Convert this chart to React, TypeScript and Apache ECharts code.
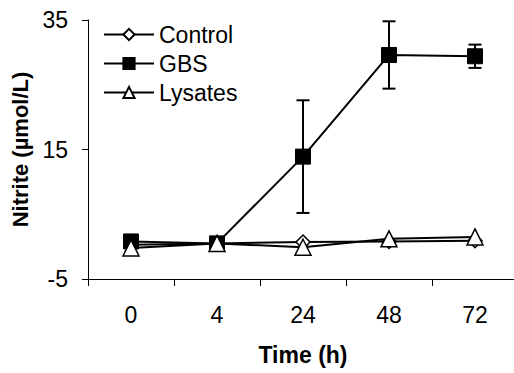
import React, { useEffect, useRef } from "react";
import * as echarts from "echarts";

const categories = ["0", "4", "24", "48", "72"];
const controlValues = [0.3, 0.5, 0.7, 0.8, 0.9];
const gbsValues = [0.8, 0.5, 13.9, 29.6, 29.4];
const gbsErrors = [0, 0, 8.7, 5.2, 1.8];
const lysatesValues = [-0.2, 0.5, -0.1, 1.2, 1.5];
const yTicks = { min: -5, max: 35, interval: 20 };

const FONT = "Arial, 'Liberation Sans', sans-serif";

export default function App() {
  const ref = useRef<HTMLDivElement>(null);
  useEffect(() => {
    if (!ref.current) return;
    const chart = echarts.init(ref.current, null, { renderer: "svg" });
    const errData = gbsValues.map((v, i) => [i, v - gbsErrors[i], v + gbsErrors[i]]);
    chart.setOption({
      animation: false,
      backgroundColor: "#fff",
      textStyle: { fontFamily: FONT },
      grid: { left: 88, top: 20, width: 430, height: 259, containLabel: false, outerBoundsMode: "none" },
      legend: {
        orient: "vertical",
        left: 98,
        top: 18,
        itemWidth: 50,
        itemHeight: 14,
        itemGap: 6,
        textStyle: { fontSize: 23, color: "#000", fontFamily: FONT },
        data: ["Control", "GBS", "Lysates"],
      },
      xAxis: {
        type: "category",
        data: categories,
        boundaryGap: true,
        name: "Time (h)",
        nameLocation: "middle",
        nameGap: 64,
        nameTextStyle: { fontSize: 23, fontWeight: "bold", color: "#000", fontFamily: FONT },
        axisLine: { onZero: false, lineStyle: { color: "#000", width: 1 } },
        axisTick: { show: true, length: 7, inside: false, alignWithLabel: false, lineStyle: { color: "#000" } },
        axisLabel: { fontSize: 23, color: "#000", margin: 24, fontFamily: FONT },
        splitLine: { show: false },
      },
      yAxis: {
        type: "value",
        min: yTicks.min,
        max: yTicks.max,
        interval: yTicks.interval,
        name: "Nitrite (µmol/L)",
        nameLocation: "middle",
        nameGap: 56,
        nameTextStyle: { fontSize: 22, fontWeight: "bold", color: "#000", fontFamily: FONT },
        axisLine: { show: true, onZero: false, lineStyle: { color: "#000", width: 1 } },
        axisTick: { show: true, length: 6, lineStyle: { color: "#000" } },
        axisLabel: { fontSize: 23, color: "#000", margin: 20, fontFamily: FONT },
        splitLine: { show: false },
      },
      series: [
        {
          name: "Control",
          type: "line",
          data: controlValues,
          symbol: "diamond",
          symbolSize: 14,
          lineStyle: { color: "#000", width: 2 },
          itemStyle: { color: "#fff", borderColor: "#000", borderWidth: 1.5 },
          z: 2,
        },
        {
          name: "GBS",
          type: "line",
          data: gbsValues,
          symbol: "rect",
          symbolSize: 15,
          lineStyle: { color: "#000", width: 2 },
          itemStyle: { color: "#000", borderColor: "#000", borderWidth: 1 },
          z: 3,
        },
        {
          name: "GBS-err",
          type: "custom",
          data: errData,
          z: 2,
          silent: true,
          renderItem: (params: any, api: any) => {
            const x = api.value(0);
            const lo = api.coord([x, api.value(1)]);
            const hi = api.coord([x, api.value(2)]);
            const hw = 6.5;
            return {
              type: "group",
              children: [
                { type: "line", shape: { x1: lo[0], y1: lo[1], x2: hi[0], y2: hi[1] }, style: { stroke: "#000", lineWidth: 2 } },
                { type: "line", shape: { x1: lo[0] - hw, y1: lo[1], x2: lo[0] + hw, y2: lo[1] }, style: { stroke: "#000", lineWidth: 2 } },
                { type: "line", shape: { x1: hi[0] - hw, y1: hi[1], x2: hi[0] + hw, y2: hi[1] }, style: { stroke: "#000", lineWidth: 2 } },
              ],
            };
          },
        },
        {
          name: "Lysates",
          type: "line",
          data: lysatesValues,
          symbol: "triangle",
          symbolSize: 16,
          lineStyle: { color: "#000", width: 2 },
          itemStyle: { color: "#fff", borderColor: "#000", borderWidth: 1.5 },
          z: 4,
        },
      ],
    });
    return () => chart.dispose();
  }, []);
  return <div ref={ref} style={{ width: 514, height: 373, position: "absolute", left: 0, top: 0 }} />;
}
